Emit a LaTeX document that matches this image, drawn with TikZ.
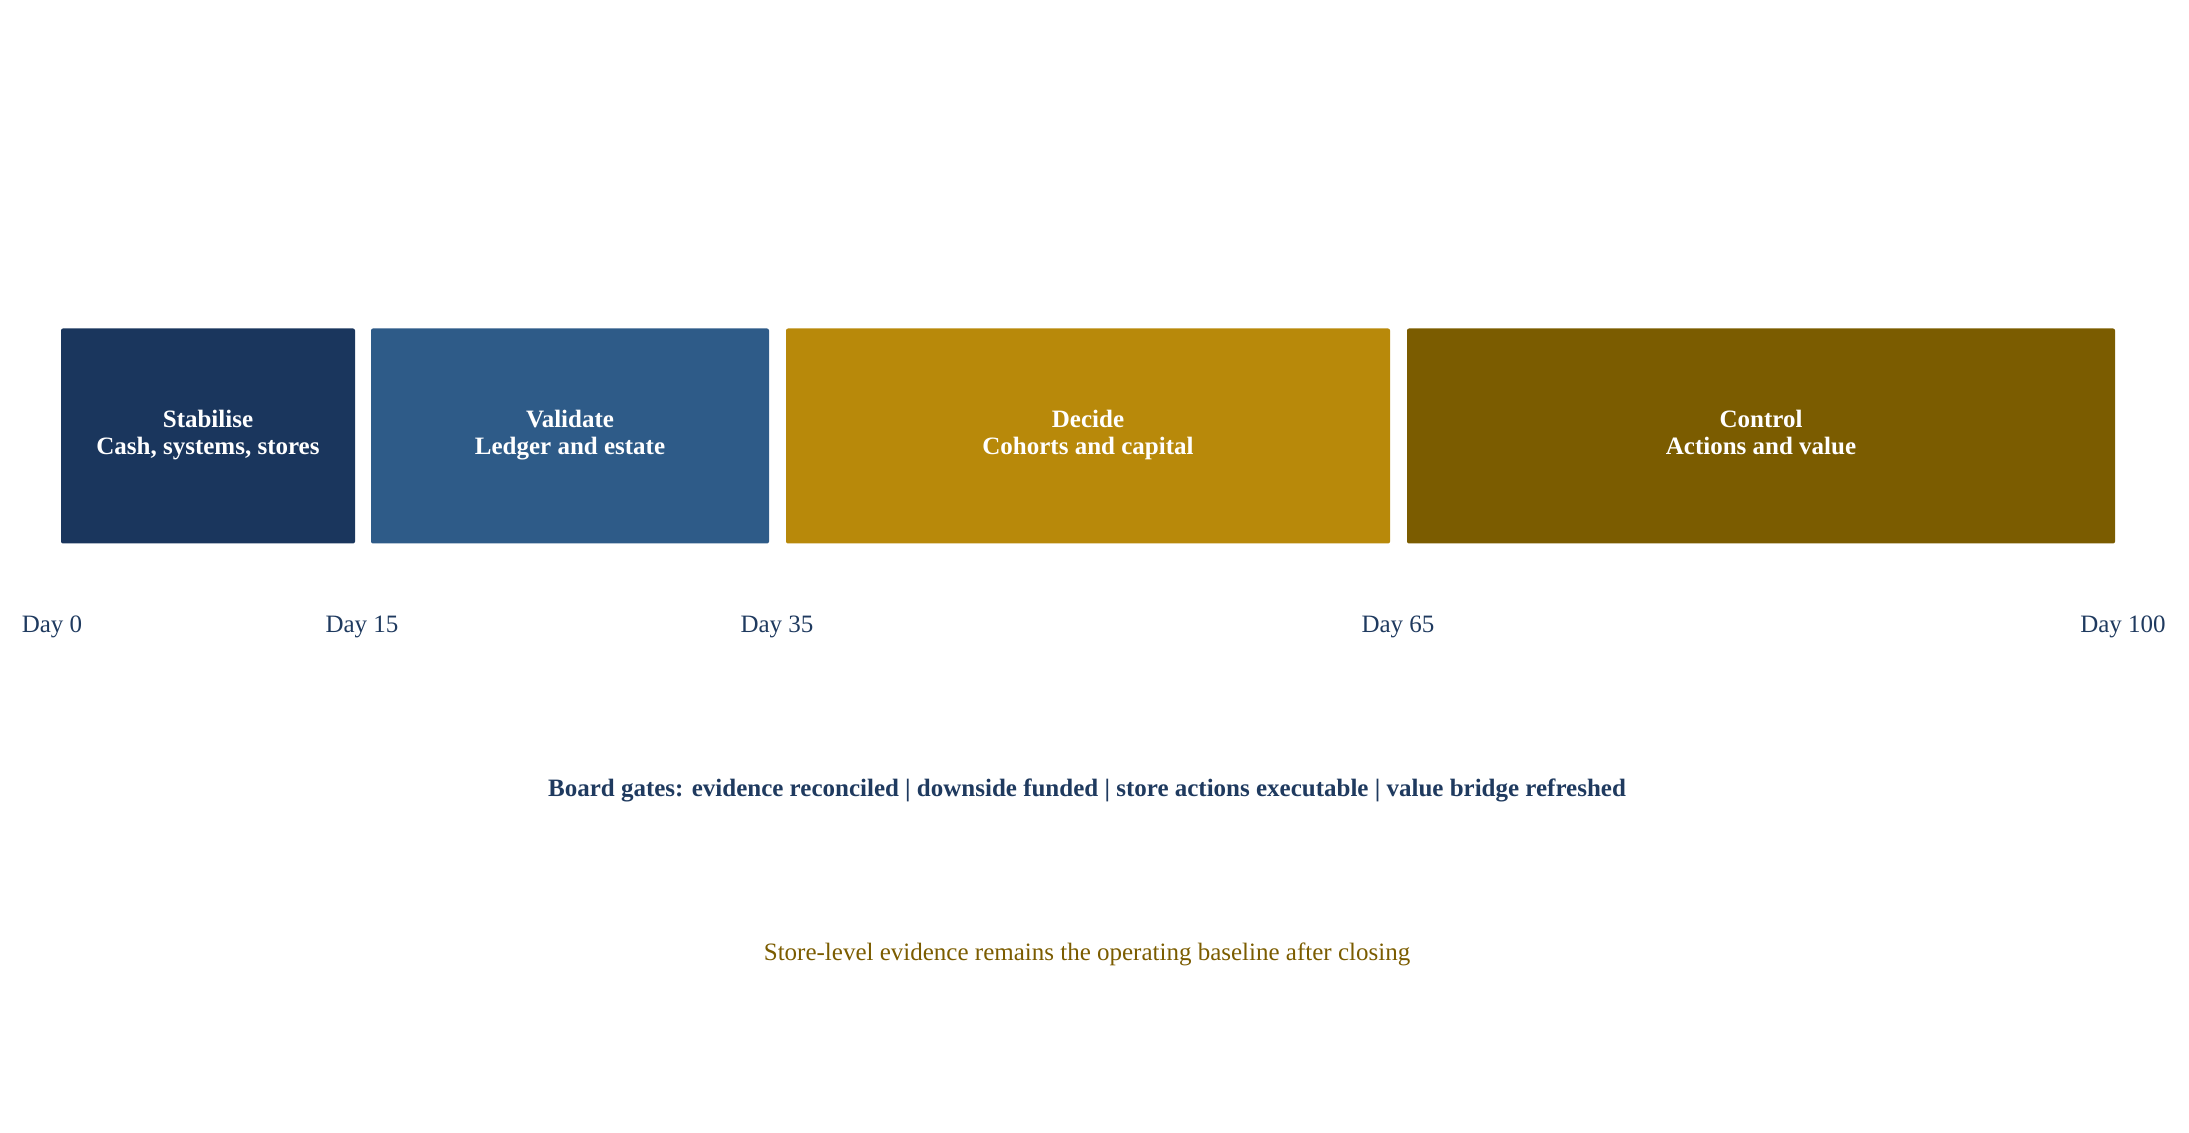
\documentclass[tikz,border=0pt]{standalone}
\usepackage{fontspec}
\setmainfont{Liberation Serif}
\usepackage{tikz}
\usepackage{xcolor}
\definecolor{navy}{HTML}{1A365D}
\definecolor{steel}{HTML}{2E5B88}
\definecolor{gold}{HTML}{B8890A}
\definecolor{olive}{HTML}{7B5C00}
\definecolor{inknavy}{HTML}{1F3A5F}

\begin{document}
\begin{tikzpicture}[
    x=0.5pt, y=-0.5pt,
    phase/.style={fill=#1, text=white, rounded corners=1pt, inner sep=0pt,
        minimum height=107.5pt, align=center,
        font=\bfseries\fontsize{12.5}{13.5}\selectfont},
    daylabel/.style={text=inknavy, inner sep=0pt, font=\fontsize{12.5}{14}\selectfont}
]
\useasboundingbox (0,0) rectangle (2189,1133);
\node[phase=navy,  minimum width=147pt] (stab) at ( 208, 436) {Stabilise\strut\\Cash, systems, stores\strut};
\node[phase=steel, minimum width=199pt] (vali) at ( 570, 436) {Validate\strut\\Ledger and estate\strut};
\node[phase=gold,  minimum width=302pt] (deci) at (1088, 436) {Decide\strut\\Cohorts and capital\strut};
\node[phase=olive, minimum width=354pt] (ctrl) at (1761, 436) {Control\strut\\Actions and value\strut};
\node[daylabel] (day0)   at (  52, 627) {Day 0};
\node[daylabel] (day15)  at ( 362, 627) {Day 15};
\node[daylabel] (day35)  at ( 777, 627) {Day 35};
\node[daylabel] (day65)  at (1398, 627) {Day 65};
\node[daylabel] (day100) at (2123, 627) {Day 100};
\node[daylabel, font=\bfseries\fontsize{12.5}{14}\selectfont] (gates) at (1087, 790)
    {Board gates: evidence reconciled | downside funded | store actions executable | value bridge refreshed};
\node[daylabel, text=olive] (base) at (1087, 954)
    {Store-level evidence remains the operating baseline after closing};
\end{tikzpicture}
\end{document}
